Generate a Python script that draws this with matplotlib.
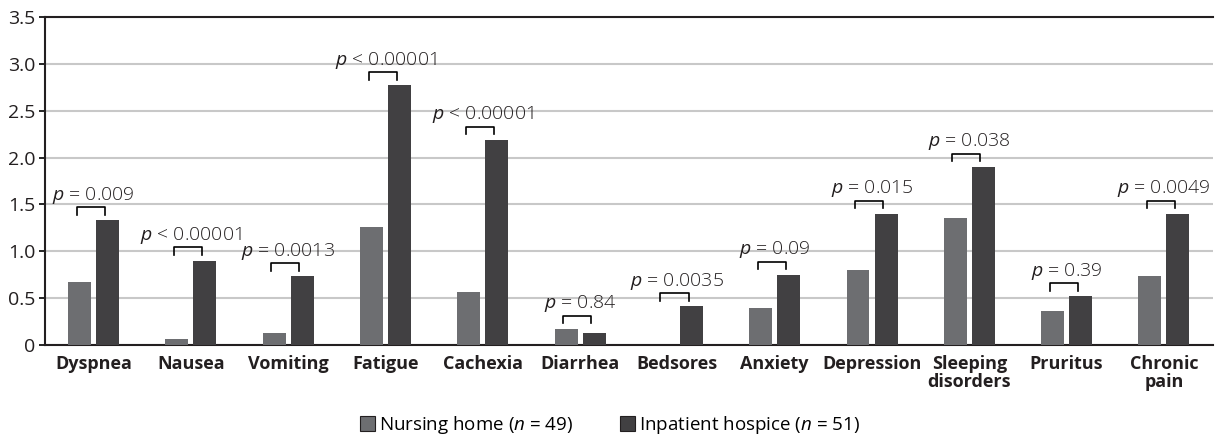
import numpy as np
import matplotlib.pyplot as plt
from matplotlib.patches import Patch

# data
categories = ['Dyspnea', 'Nausea', 'Vomiting', 'Fatigue', 'Cachexia', 'Diarrhea',
              'Bedsores', 'Anxiety', 'Depression', 'Sleeping\ndisorders', 'Pruritus',
              'Chronic\npain']
nursing_home = [0.67, 0.06, 0.13, 1.26, 0.56, 0.17, 0.0, 0.39, 0.80, 1.35, 0.36, 0.74]
hospice = [1.33, 0.90, 0.73, 2.77, 2.19, 0.13, 0.41, 0.75, 1.40, 1.90, 0.52, 1.40]
p_labels = ['$p$ = 0.009', '$p$ < 0.00001', '$p$ = 0.0013', '$p$ < 0.00001',
            '$p$ < 0.00001', '$p$ = 0.84', '$p$ = 0.0035', '$p$ = 0.09',
            '$p$ = 0.015', '$p$ = 0.038', '$p$ = 0.39', '$p$ = 0.0049']

c_nh = '#6d6e71'
c_ih = '#414042'

plt.rcParams['font.family'] = ['Open Sans', 'DejaVu Sans']
plt.rcParams['mathtext.fontset'] = 'custom'
plt.rcParams['mathtext.it'] = 'Open Sans:italic'
plt.rcParams['mathtext.rm'] = 'Open Sans'

fig = plt.figure(figsize=(12.15, 4.36), dpi=100)
ax = fig.add_axes([0.037, 0.209, 0.961, 0.752])

x = np.arange(len(categories))
w = 0.236
off = 0.144
ax.bar(x - off, nursing_home, w, color=c_nh, zorder=3)
ax.bar(x + off, hospice, w, color=c_ih, zorder=3)

# significance brackets
for i in range(len(categories)):
    top = max(nursing_home[i], hospice[i]) + 0.14
    xs = [x[i] - off - 0.03, x[i] - off - 0.03, x[i] + off - 0.03, x[i] + off - 0.03]
    ys = [top - 0.08, top, top, top - 0.08]
    ax.plot(xs, ys, color='black', lw=1.2, zorder=4)
    ax.text(x[i], top + 0.08, p_labels[i], ha='center', va='baseline',
            fontsize=14, color='#231f20', fontweight='light')

ax.set_xlim(-0.5, 11.5)
ax.set_ylim(0, 3.5)
ax.set_yticks(np.arange(0, 3.51, 0.5))
ax.set_yticklabels(['0', '0.5', '1.0', '1.5', '2.0', '2.5', '3.0', '3.5'],
                   fontsize=14, color='#231f20')
ax.yaxis.grid(True, color='#c8c8c8', lw=1.5, zorder=0)
ax.tick_params(axis='y', length=4, width=1.2, pad=3)

ax.set_xticks(x)
ax.set_xticklabels(categories, fontsize=13, fontweight='bold', color='#231f20',
                   linespacing=1.0)
ax.tick_params(axis='x', length=0, pad=7)

for s in ['left', 'top', 'bottom']:
    ax.spines[s].set_linewidth(1.5)
    ax.spines[s].set_color('#231f20')
ax.spines['right'].set_visible(False)

handles = [Patch(facecolor=c_nh, edgecolor='#231f20', lw=0.8),
           Patch(facecolor=c_ih, edgecolor='#231f20', lw=0.8)]
fig.legend(handles, ['Nursing home ($n$ = 49)', 'Inpatient hospice ($n$ = 51)'],
           loc='center', bbox_to_anchor=(0.502, 0.025), ncol=2, frameon=False,
           fontsize=13.5, handlelength=0.8, handleheight=0.8, handletextpad=0.2,
           columnspacing=2.5)

fig.savefig('out.png', dpi=100)
